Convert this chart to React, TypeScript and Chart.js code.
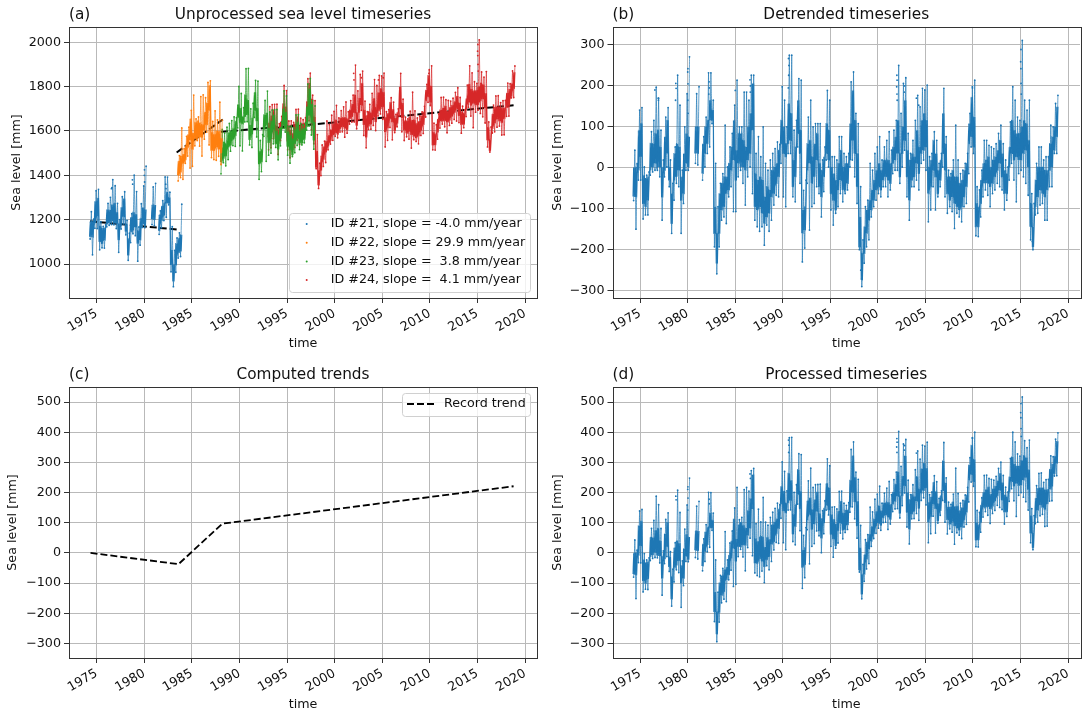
import React, { useEffect, useRef } from "react";
import { Chart, registerables } from "chart.js";
Chart.register(...registerables);

const FONT = "'DejaVu Sans'";
const xTickValues = [1975, 1980, 1985, 1990, 1995, 2000, 2005, 2010, 2015, 2020];
const aTicks = [1000, 1200, 1400, 1600, 1800, 2000];
const bTicks = [-300, -200, -100, 0, 100, 200, 300];
const cdTicks = [-300, -200, -100, 0, 100, 200, 300, 400, 500];
const legendA = ["ID #21, slope = -4.0 mm/year", "ID #22, slope = 29.9 mm/year", "ID #23, slope =  3.8 mm/year", "ID #24, slope =  4.1 mm/year"];
const colorsA = ["#1f77b4", "#ff7f0e", "#2ca02c", "#d62728"];

// rows: [time, lowest, band low, band high, highest]
const id21 = [[1974.25,1113,1123,1193,1236],[1974.5,1042,1121,1194,1202],[1974.75,1161,1186,1283,1331],[1975,1160,1217,1298,1337],[1975.25,1064,1102,1171,1191],[1975.5,1073,1093,1162,1170],[1975.75,1072,1108,1165,1177],[1976,1168,1181,1246,1274],[1976.25,1175,1187,1244,1301],[1976.5,1178,1195,1268,1381],[1976.75,1177,1185,1275,1353],[1977,1160,1184,1233,1274],[1977.25,1053,1110,1183,1200],[1977.5,1158,1174,1256,1304],[1977.75,1181,1214,1295,1326],[1978,1132,1148,1180,1197],[1978.25,1017,1041,1114,1139],[1978.5,1097,1146,1211,1227],[1978.75,1137,1153,1234,1401],[1979,1128,1168,1225,1327],[1979.25,1013,1094,1151,1167],[1979.5,1085,1109,1207,1272],[1979.75,1165,1182,1255,1352],[1980,1164,1172,1246,1441],[1980.75,1178,1202,1267,1348],[1981,1173,1201,1266,1364],[1981.5,1134,1150,1223,1240],[1981.75,1164,1197,1262,1286],[1982,1196,1220,1277,1393],[1982.25,1211,1276,1325,1392],[1982.5,1267,1275,1300,1324],[1982.75,965,998,1063,1169],[1983,898,924,997,1062],[1983.25,963,996,1093,1118],[1983.5,1027,1052,1117,1141],[1983.75,1034,1059,1132,1270]];
const id22 = [[1983.5,1375,1400,1465,1489],[1983.75,1390,1415,1488,1614],[1984,1382,1455,1496,1520],[1984.25,1454,1471,1536,1576],[1984.5,1487,1527,1584,1617],[1984.75,1433,1559,1656,1693],[1985,1441,1518,1591,1762],[1985.25,1533,1566,1639,1655],[1985.5,1557,1565,1647,1663],[1985.75,1532,1572,1637,1755],[1986,1487,1572,1629,1763],[1986.25,1563,1604,1685,1750],[1986.5,1595,1628,1726,1819],[1986.75,1537,1692,1806,1826],[1987,1480,1513,1594,1643],[1987.25,1471,1512,1585,1691],[1987.5,1468,1528,1601,1650],[1987.75,1486,1519,1600,1730],[1988,1449,1502,1567,1649]];
const id23 = [[1988,1407,1460,1525,1607],[1988.25,1457,1477,1551,1591],[1988.5,1443,1487,1544,1617],[1988.75,1471,1528,1593,1634],[1989,1509,1537,1602,1647],[1989.25,1534,1563,1612,1664],[1989.5,1531,1580,1645,1660],[1989.75,1614,1662,1719,1801],[1990,1533,1639,1704,1769],[1990.25,1510,1632,1664,1705],[1990.5,1641,1665,1763,1881],[1990.75,1642,1674,1740,1882],[1991,1537,1562,1627,1700],[1991.25,1526,1587,1660,1725],[1991.5,1661,1694,1775,1828],[1991.75,1573,1646,1703,1825],[1992,1382,1452,1509,1557],[1992.25,1417,1461,1518,1583],[1992.5,1576,1608,1673,1738],[1992.75,1463,1626,1682,1780],[1993,1491,1548,1613,1686],[1993.25,1500,1565,1646,1695],[1993.5,1542,1607,1672,1696],[1993.75,1526,1543,1600,1697],[1994,1470,1519,1584,1609],[1994.25,1533,1569,1618,1642],[1994.5,1611,1627,1700,1781],[1994.75,1595,1612,1685,1758],[1995,1491,1531,1596,1621],[1995.25,1455,1516,1581,1622],[1995.5,1485,1493,1566,1615],[1995.75,1502,1543,1608,1673],[1996,1535,1568,1641,1674],[1996.25,1516,1545,1601,1634],[1996.5,1537,1546,1611,1627],[1996.75,1547,1563,1612,1636],[1997,1604,1621,1710,1812],[1997.25,1622,1670,1792,1837],[1997.5,1582,1639,1720,1737],[1997.75,1518,1559,1640,1713]];
const id24 = [[1993,1515,1572,1637,1710],[1993.25,1524,1589,1670,1719],[1993.5,1566,1631,1696,1720],[1993.75,1550,1567,1624,1721],[1994,1494,1543,1608,1633],[1994.25,1557,1593,1642,1666],[1994.5,1635,1651,1724,1805],[1994.75,1619,1636,1709,1782],[1995,1515,1555,1620,1645],[1995.25,1479,1540,1605,1646],[1995.5,1509,1517,1590,1639],[1995.75,1526,1567,1632,1697],[1996,1559,1592,1665,1698],[1996.25,1540,1569,1625,1658],[1996.5,1561,1570,1635,1651],[1996.75,1571,1587,1636,1660],[1997,1628,1645,1734,1836],[1997.25,1646,1694,1816,1861],[1997.5,1606,1663,1744,1761],[1997.75,1542,1583,1664,1737],[1998,1430,1437,1510,1584],[1998.25,1341,1357,1422,1455],[1998.5,1399,1423,1488,1537],[1998.75,1440,1473,1530,1554],[1999,1458,1506,1555,1645],[1999.25,1515,1532,1581,1629],[1999.5,1541,1557,1606,1671],[1999.75,1558,1583,1631,1688],[2000,1576,1593,1650,1715],[2000.25,1569,1586,1634,1659],[2000.5,1595,1611,1660,1692],[2000.75,1596,1620,1661,1709],[2001,1572,1613,1662,1731],[2001.25,1590,1606,1655,1687],[2001.5,1631,1656,1696,1737],[2001.75,1640,1665,1722,1762],[2002,1641,1682,1763,1897],[2002.25,1610,1626,1683,1781],[2002.5,1651,1684,1749,1855],[2002.75,1693,1717,1815,1870],[2003,1580,1629,1694,1735],[2003.25,1524,1573,1671,1687],[2003.5,1607,1623,1688,1720],[2003.75,1608,1632,1681,1770],[2004,1625,1666,1747,1832],[2004.25,1602,1642,1707,1805],[2004.5,1668,1692,1773,1851],[2004.75,1677,1701,1791,1848],[2005,1653,1710,1775,1861],[2005.25,1528,1597,1662,1687],[2005.5,1558,1615,1680,1696],[2005.75,1616,1656,1729,1750],[2006,1560,1641,1698,1730],[2006.25,1593,1601,1658,1675],[2006.5,1619,1635,1684,1700],[2006.75,1668,1701,1799,1860],[2007,1596,1661,1726,1743],[2007.25,1557,1605,1646,1662],[2007.5,1574,1590,1647,1655],[2007.75,1563,1599,1664,1689],[2008,1523,1584,1649,1775],[2008.25,1561,1577,1650,1691],[2008.5,1553,1570,1635,1659],[2008.75,1542,1579,1644,1668],[2009,1580,1604,1669,1686],[2009.25,1589,1630,1687,1711],[2009.5,1663,1736,1785,1810],[2009.75,1729,1754,1851,1876],[2010,1715,1731,1804,1894],[2010.25,1515,1537,1594,1635],[2010.5,1514,1538,1587,1628],[2010.75,1563,1596,1653,1677],[2011,1613,1646,1695,1751],[2011.25,1631,1647,1704,1752],[2011.5,1619,1648,1713,1741],[2011.75,1592,1641,1689,1738],[2012,1625,1650,1707,1735],[2012.25,1635,1667,1716,1748],[2012.5,1652,1684,1733,1774],[2012.75,1645,1702,1758,1795],[2013,1638,1670,1727,1751],[2013.25,1590,1630,1687,1712],[2013.5,1615,1631,1680,1696],[2013.75,1665,1697,1746,1807],[2014,1707,1731,1812,1894],[2014.25,1667,1716,1789,1862],[2014.5,1615,1725,1782,1822],[2014.75,1685,1718,1783,1815],[2015,1694,1719,1800,2011],[2015.25,1679,1736,1817,1866],[2015.5,1664,1745,1810,1843],[2015.75,1636,1705,1770,1868],[2016,1528,1560,1617,1641],[2016.25,1505,1512,1561,1618],[2016.5,1591,1611,1676,1717],[2016.75,1596,1636,1709,1758],[2017,1617,1654,1710,1759],[2017.25,1622,1646,1711,1728],[2017.5,1582,1639,1704,1737],[2017.75,1583,1657,1705,1738],[2018,1666,1706,1771,1816],[2018.25,1667,1715,1789,1813],[2018.5,1749,1757,1814,1871],[2018.75,1751,1792,1865,1893]];
const spikes21 = [[1980.02,1425],[1980,1400],[1980.03,1370],[1978.75,1380],[1978.78,1360],[1976.55,1340],[1976.6,1345],[1982.25,1360],[1982.28,1340]];
const spikes24 = [[2015.05,1990],[2015.02,1960],[2015.04,1940],[2015.06,1900],[2015.08,1870],[2002,1860],[2002.03,1830],[2002.8,1840],[2004.6,1830],[2005.1,1840],[2009.9,1860]];

const trend21 = [[1974.3, 1193], [1983.6, 1155]];
const trend22 = [[1983.4, 1503], [1988.25, 1652]];
const trend23 = [[1988.05, 1596], [1997.7, 1632]];
const trend24 = [[1993, 1610], [2018.8, 1716]];
const trendRecord = [[1974.35, 0], [1983.6, -37], [1988.2, 97], [2018.8, 221]];

const detrended = [[1974.25,-80,-70,0,43],[1974.5,-150,-71,2,10],[1974.75,-30,-5,92,141],[1975,-30,27,108,147],[1975.25,-125,-87,-18,2],[1975.5,-115,-95,-26,-18],[1975.75,-115,-79,-22,-10],[1976,-18,-5,60,88],[1976.25,-10,2,59,116],[1976.5,-6,11,84,197],[1976.75,-6,2,92,170],[1977,-22,2,51,92],[1977.25,-128,-71,2,19],[1977.5,-22,-6,76,124],[1977.75,2,35,116,147],[1978,-46,-30,2,19],[1978.25,-160,-136,-63,-38],[1978.5,-79,-30,35,51],[1978.75,-38,-22,59,226],[1979,-46,-6,51,153],[1979.25,-160,-79,-22,-6],[1979.5,-87,-63,35,100],[1979.75,-6,11,84,181],[1980,-6,2,76,271],[1980.75,11,35,100,181],[1981,7,35,100,198],[1981.5,-30,-14,59,76],[1981.75,2,35,100,124],[1982,35,59,116,232],[1982.25,51,116,165,232],[1982.5,108,116,141,165],[1982.75,-193,-160,-95,11],[1983,-259,-233,-160,-95],[1983.25,-193,-160,-63,-38],[1983.5,-128,-103,-38,-14],[1983.75,-120,-95,-22,104],[1984,-136,-63,-22,2],[1984.25,-71,-54,11,51],[1984.5,-46,-6,51,84],[1984.75,-107,19,116,153],[1985,-107,-30,43,214],[1985.25,-22,11,84,100],[1985.5,-6,2,84,100],[1985.75,-38,2,67,185],[1986,-91,-6,51,185],[1986.25,-22,19,100,165],[1986.5,2,35,133,226],[1986.75,-63,92,206,226],[1987,-128,-95,-14,35],[1987.25,-144,-103,-30,76],[1987.5,-155,-95,-22,27],[1987.75,-144,-111,-30,100],[1988,-189,-136,-71,11],[1988.25,-140,-120,-46,-6],[1988.5,-155,-111,-54,19],[1988.75,-128,-71,-6,35],[1989,-91,-63,2,47],[1989.25,-67,-38,11,63],[1989.5,-71,-22,43,57],[1989.75,11,59,116,198],[1990,-71,35,100,165],[1990.25,-95,27,59,100],[1990.5,35,59,157,275],[1990.75,35,67,133,275],[1991,-71,-46,19,92],[1991.25,-83,-22,51,116],[1991.5,51,84,165,218],[1991.75,-38,35,92,214],[1992,-230,-160,-103,-55],[1992.25,-196,-152,-95,-30],[1992.5,-38,-6,59,124],[1992.75,-152,11,67,165],[1993,-95,-38,27,100],[1993.25,-87,-22,59,108],[1993.5,-46,19,84,108],[1993.75,-63,-46,11,108],[1994,-120,-71,-6,19],[1994.25,-58,-22,27,51],[1994.5,19,35,108,189],[1994.75,2,19,92,165],[1995,-103,-63,2,27],[1995.25,-140,-79,-14,27],[1995.5,-111,-103,-30,19],[1995.75,-95,-54,11,76],[1996,-63,-30,43,76],[1996.25,-83,-54,2,35],[1996.5,-63,-54,11,27],[1996.75,-54,-38,11,35],[1997,2,19,108,210],[1997.25,19,67,189,234],[1997.5,-22,35,116,133],[1997.75,-87,-46,35,108],[1998,-200,-193,-120,-46],[1998.25,-290,-274,-209,-176],[1998.5,-233,-209,-144,-95],[1998.75,-193,-160,-103,-79],[1999,-176,-128,-79,11],[1999.25,-120,-103,-54,-6],[1999.5,-95,-79,-30,35],[1999.75,-79,-54,-6,51],[2000,-63,-46,11,76],[2000.25,-71,-54,-6,19],[2000.5,-46,-30,19,51],[2000.75,-46,-22,19,67],[2001,-71,-30,19,88],[2001.25,-54,-38,11,43],[2001.5,-14,11,51,92],[2001.75,-6,19,76,116],[2002,-6,35,116,250],[2002.25,-38,-22,35,133],[2002.5,2,35,100,206],[2002.75,43,67,165,220],[2003,-71,-22,43,84],[2003.25,-128,-79,19,35],[2003.5,-46,-30,35,67],[2003.75,-46,-22,27,116],[2004,-30,11,92,177],[2004.25,-54,-14,51,149],[2004.5,11,35,116,194],[2004.75,19,43,133,190],[2005,-6,51,116,202],[2005.25,-132,-63,2,27],[2005.5,-103,-46,19,35],[2005.75,-46,-6,67,88],[2006,-103,-22,35,67],[2006.25,-71,-63,-6,11],[2006.5,-46,-30,19,35],[2006.75,2,35,133,194],[2007,-71,-6,59,76],[2007.25,-111,-63,-22,-6],[2007.5,-95,-79,-22,-14],[2007.75,-107,-71,-6,19],[2008,-148,-87,-22,104],[2008.25,-111,-95,-22,19],[2008.5,-120,-103,-38,-14],[2008.75,-132,-95,-30,-6],[2009,-95,-71,-6,11],[2009.25,-87,-46,11,35],[2009.5,-14,59,108,133],[2009.75,51,76,173,198],[2010,35,51,124,214],[2010.25,-166,-144,-87,-46],[2010.5,-168,-144,-95,-54],[2010.75,-120,-87,-30,-6],[2011,-71,-38,11,67],[2011.25,-54,-38,19,67],[2011.5,-67,-38,27,55],[2011.75,-95,-46,2,51],[2012,-63,-38,19,47],[2012.25,-54,-22,27,59],[2012.5,-38,-6,43,84],[2012.75,-46,11,67,104],[2013,-54,-22,35,59],[2013.25,-103,-63,-6,19],[2013.5,-79,-63,-14,2],[2013.75,-30,2,51,112],[2014,11,35,116,198],[2014.25,-30,19,92,165],[2014.5,-83,27,84,124],[2014.75,-14,19,84,116],[2015,-6,19,100,311],[2015.25,-22,35,116,165],[2015.5,-38,43,108,141],[2015.75,-67,2,67,165],[2016,-176,-144,-87,-63],[2016.25,-200,-193,-144,-87],[2016.5,-115,-95,-30,11],[2016.75,-111,-71,2,51],[2017,-91,-54,2,51],[2017.25,-87,-63,2,19],[2017.5,-128,-71,-6,27],[2017.75,-128,-54,-6,27],[2018,-46,-6,59,104],[2018.25,-46,2,76,100],[2018.5,35,43,100,157],[2018.75,35,76,149,177]];
const detrendedSpikes = [[1980.02,242],[1980,234],[1980.03,205],[1980.01,165],[1980.04,133],[2015.05,289],[2015.02,259],[2015.04,242],[2015.06,206],[2015.08,180],[1990.6,267],[1990.65,250],[1990.62,226],[1990.58,195],[1978.75,206],[1978.78,194],[1978.72,165],[1976.55,190],[1976.9,170],[1976.92,165],[1982.25,210],[1982.27,195],[1982.22,180],[1985,189],[1986.55,215],[1986.6,200],[1986.58,185],[2002,226],[2002.02,214],[2001.98,198],[2002.01,180],[2002.03,165],[2002.8,200],[2002.78,185],[2004.05,170],[2004.3,153],[2009.95,195],[2016.25,-180],[1998.3,-270],[1998.2,-250]];

const processed = [[1974.25,-80,-70,0,43],[1974.5,-151,-72,1,9],[1974.75,-32,-7,90,139],[1975,-33,24,105,144],[1975.25,-129,-91,-22,-2],[1975.5,-120,-100,-31,-23],[1975.75,-121,-85,-28,-16],[1976,-25,-12,53,81],[1976.25,-18,-6,51,108],[1976.5,-15,2,75,188],[1976.75,-16,-8,82,160],[1977,-33,-9,40,81],[1977.25,-140,-83,-10,7],[1977.5,-35,-19,63,111],[1977.75,-12,21,102,133],[1978,-61,-45,-13,4],[1978.25,-176,-152,-79,-54],[1978.5,-96,-47,18,34],[1978.75,-56,-40,41,208],[1979,-65,-25,32,134],[1979.25,-180,-99,-42,-26],[1979.5,-108,-84,14,79],[1979.75,-28,-11,62,159],[1980,-29,-21,53,248],[1980.75,-15,9,74,155],[1981,-20,8,73,171],[1981.5,-59,-43,30,47],[1981.75,-28,5,70,94],[1982,4,28,85,201],[1982.25,19,84,133,200],[1982.5,75,83,108,132],[1982.75,-227,-194,-129,-23],[1983,-294,-268,-195,-130],[1983.25,-229,-196,-99,-74],[1983.5,-165,-140,-75,-51],[1983.75,-153,-128,-55,71],[1984,-161,-88,-47,-23],[1984.25,-89,-72,-7,33],[1984.5,-57,-17,40,73],[1984.75,-111,15,112,149],[1985,-104,-27,46,217],[1985.25,-12,21,94,110],[1985.5,12,20,102,118],[1985.75,-13,27,92,210],[1986,-59,26,83,217],[1986.25,18,59,140,205],[1986.5,49,82,180,273],[1986.75,-9,146,260,280],[1987,-66,-33,48,97],[1987.25,-75,-34,39,145],[1987.5,-79,-19,54,103],[1987.75,-60,-27,54,184],[1988,-98,-45,20,102],[1988.25,-42,-22,52,92],[1988.5,-56,-12,45,118],[1988.75,-28,29,94,135],[1989,10,38,103,148],[1989.25,35,64,113,165],[1989.5,32,81,146,160],[1989.75,115,163,220,302],[1990,34,140,205,270],[1990.25,11,133,165,206],[1990.5,142,166,264,382],[1990.75,143,175,241,383],[1991,38,63,128,201],[1991.25,27,88,161,226],[1991.5,162,195,276,329],[1991.75,74,147,204,326],[1992,-117,-47,10,58],[1992.25,-82,-38,19,84],[1992.5,77,109,174,239],[1992.75,-36,127,183,281],[1993,22,79,144,217],[1993.25,31,96,177,226],[1993.5,73,138,203,227],[1993.75,57,74,131,228],[1994,1,50,115,140],[1994.25,64,100,149,173],[1994.5,142,158,231,312],[1994.75,126,143,216,289],[1995,22,62,127,152],[1995.25,-14,47,112,153],[1995.5,16,24,97,146],[1995.75,33,74,139,204],[1996,66,99,172,205],[1996.25,47,76,132,165],[1996.5,68,77,142,158],[1996.75,78,94,143,167],[1997,135,152,241,343],[1997.25,153,201,323,368],[1997.5,113,170,251,268],[1997.75,49,90,171,244],[1998,-63,-56,17,91],[1998.25,-152,-136,-71,-38],[1998.5,-94,-70,-5,44],[1998.75,-53,-20,37,61],[1999,-35,13,62,152],[1999.25,22,39,88,136],[1999.5,48,64,113,178],[1999.75,65,90,138,195],[2000,82,99,156,221],[2000.25,75,92,140,165],[2000.5,101,117,166,198],[2000.75,102,126,167,215],[2001,78,119,168,237],[2001.25,96,112,161,193],[2001.5,137,162,202,243],[2001.75,146,171,228,268],[2002,147,188,269,403],[2002.25,116,132,189,287],[2002.5,157,190,255,361],[2002.75,199,223,321,376],[2003,86,135,200,241],[2003.25,30,79,177,193],[2003.5,113,129,194,226],[2003.75,114,138,187,276],[2004,131,172,253,338],[2004.25,108,148,213,311],[2004.5,174,198,279,357],[2004.75,183,207,297,354],[2005,159,216,281,367],[2005.25,34,103,168,193],[2005.5,64,121,186,202],[2005.75,122,162,235,256],[2006,66,147,204,236],[2006.25,99,107,164,181],[2006.5,125,141,190,206],[2006.75,174,207,305,366],[2007,102,167,232,249],[2007.25,63,111,152,168],[2007.5,80,96,153,161],[2007.75,69,105,170,195],[2008,29,90,155,281],[2008.25,67,83,156,197],[2008.5,59,76,141,165],[2008.75,48,85,150,174],[2009,86,110,175,192],[2009.25,95,136,193,217],[2009.5,169,242,291,316],[2009.75,235,260,357,382],[2010,221,237,310,400],[2010.25,21,43,100,141],[2010.5,20,44,93,134],[2010.75,69,102,159,183],[2011,119,152,201,257],[2011.25,137,153,210,258],[2011.5,125,154,219,247],[2011.75,98,147,195,244],[2012,131,156,213,241],[2012.25,141,173,222,254],[2012.5,158,190,239,280],[2012.75,151,208,264,301],[2013,144,176,233,257],[2013.25,96,136,193,218],[2013.5,121,137,186,202],[2013.75,171,203,252,313],[2014,213,237,318,400],[2014.25,173,222,295,368],[2014.5,121,231,288,328],[2014.75,191,224,289,321],[2015,200,225,306,517],[2015.25,185,242,323,372],[2015.5,170,251,316,349],[2015.75,142,211,276,374],[2016,34,66,123,147],[2016.25,11,18,67,124],[2016.5,97,117,182,223],[2016.75,102,142,215,264],[2017,123,160,216,265],[2017.25,128,152,217,234],[2017.5,88,145,210,243],[2017.75,89,163,211,244],[2018,172,212,277,322],[2018.25,173,221,295,319],[2018.5,255,263,320,377],[2018.75,256,297,370,398]];
const processedSpikes = [[1980.02,219],[1980,211],[1980.03,182],[1980.01,142],[2015.05,495],[2015.02,465],[2015.04,448],[2015.06,412],[2015.08,386],[1990.6,374],[1990.65,357],[1990.62,333],[1978.75,188],[1978.78,176],[1982.25,178],[1982.27,163],[1986.55,262],[1986.6,247],[2002,379],[2002.02,367],[2001.98,351],[2002.01,333],[2002.8,356],[2002.78,341],[2004.05,331],[2009.95,380]];

const gapBreak = (rows: number[][], i: number, r: number[]) => (i > 0 && r[0] - rows[i - 1][0] > 0.3 ? [{ x: r[0], y: null }] : []);
// the thick middle of the band: a dense zigzag between band low and band high
const band = (rows: number[][]) =>
  rows.flatMap((r, i) => [
    ...gapBreak(rows, i, r),
    { x: r[0], y: r[2] }, { x: r[0] + 0.06, y: r[3] }, { x: r[0] + 0.125, y: r[2] }, { x: r[0] + 0.19, y: r[3] },
  ]);
// the thin outer part of the band: lowest to highest of each row
const outer = (rows: number[][]) =>
  rows.flatMap((r, i) => [...gapBreak(rows, i, r), { x: r[0] + 0.06, y: r[1] }, { x: r[0] + 0.19, y: r[4] }]);
const tips = (rows: number[][], extra: number[][]) => [
  ...rows.flatMap((r) => [{ x: r[0] + 0.06, y: r[1] }, { x: r[0] + 0.19, y: r[4] }]),
  ...extra.map((p) => ({ x: p[0], y: p[1] })),
];
const series = (label: string, color: string, rows: number[][], extra: number[][]) => [
  { label: label + " outer", data: outer(rows), showLine: true, tension: 0.0001, borderColor: color + "b0", borderWidth: 1, pointRadius: 0, spanGaps: false },
  { label, data: band(rows), showLine: true, tension: 0.0001, borderColor: color, borderWidth: 1.1, pointRadius: 0, spanGaps: false },
  { label: label + " tips", data: tips(rows, extra), showLine: false, backgroundColor: color, pointRadius: 0.9, pointBorderWidth: 0 },
];
const trend = (label: string, pts: number[][], w = 2) => ({
  label, data: pts.map((p) => ({ x: p[0], y: p[1] })), showLine: true, borderColor: "#000", borderWidth: w, borderDash: [7, 3], pointRadius: 0,
});

const frame = (tag: string) => ({
  id: "frame" + tag,
  afterDatasetsDraw(c: any) {
    const { left, top, right, bottom } = c.chartArea;
    const g = c.ctx;
    g.save();
    g.strokeStyle = "#333";
    g.lineWidth = 1;
    g.strokeRect(Math.round(left) + 0.5, Math.round(top) + 0.5, Math.round(right - left), Math.round(bottom - top));
    g.fillStyle = "#111";
    g.font = `15.3px ${FONT}`;
    g.textBaseline = "middle";
    g.textAlign = "left";
    g.fillText(tag, left, 15);
    g.restore();
  },
});

const legendBox = (g: any, x: number, y: number, w: number, h: number) => {
  g.beginPath();
  g.roundRect(x + 0.5, y + 0.5, w, h, 3);
  g.fillStyle = "rgba(255,255,255,0.8)";
  g.fill();
  g.strokeStyle = "#d0d0d0";
  g.lineWidth = 1;
  g.stroke();
};
const legendAPlugin = {
  id: "legendA",
  afterDatasetsDraw(c: any) {
    const g = c.ctx;
    g.save();
    legendBox(g, 289, 213, 241, 79);
    g.font = `12.7px ${FONT}`;
    g.textBaseline = "middle";
    g.textAlign = "left";
    legendA.forEach((t, i) => {
      const y = 224 + i * 18.7;
      g.fillStyle = colorsA[i];
      g.beginPath();
      g.arc(306.7, y, 1, 0, Math.PI * 2);
      g.fill();
      g.fillStyle = "#111";
      g.fillText(t, 330.7, y);
    });
    g.restore();
  },
};
const legendCPlugin = {
  id: "legendC",
  afterDatasetsDraw(c: any) {
    const g = c.ctx;
    g.save();
    legendBox(g, 402, 33, 128, 23);
    g.strokeStyle = "#000";
    g.lineWidth = 2;
    g.setLineDash([7, 3]);
    g.beginPath();
    g.moveTo(407, 44);
    g.lineTo(434, 44);
    g.stroke();
    g.setLineDash([]);
    g.fillStyle = "#111";
    g.font = `12.7px ${FONT}`;
    g.textBaseline = "middle";
    g.textAlign = "left";
    g.fillText("Record trend", 444, 43.5);
    g.restore();
  },
};

const makeConfig = (p: any) => ({
  type: "scatter",
  data: { datasets: p.datasets },
  plugins: [frame(p.tag), ...(p.plugins || [])],
  options: {
    responsive: false,
    animation: false,
    events: [],
    layout: { padding: { left: 0, right: p.right, top: 0, bottom: 0 } },
    plugins: {
      legend: { display: false },
      tooltip: { enabled: false },
      title: {
        display: true, text: p.title, fullSize: false, align: "center", color: "#111",
        font: { family: FONT, size: 15.3, weight: "normal", lineHeight: 1.2 },
        padding: { top: 5.5, bottom: 3.1 },
      },
    },
    scales: {
      x: {
        type: "linear", min: 1972.09, max: 2021.26,
        afterBuildTicks: (s: any) => { s.ticks = xTickValues.map((value) => ({ value })); },
        afterFit: (s: any) => { s.height = p.h - p.plotBottom; },
        grid: { color: "#b9b9b9", lineWidth: 1, tickColor: "#333", tickLength: 5 },
        border: { display: false },
        ticks: { autoSkip: false, minRotation: 30, maxRotation: 30, padding: 3, color: "#111", font: { family: FONT, size: 12.7 }, callback: (v: number) => String(v) },
        title: { display: true, text: "time", color: "#111", font: { family: FONT, size: 12.7, lineHeight: 1.2 }, padding: 0 },
      },
      y: {
        type: "linear", min: p.yMin, max: p.yMax,
        afterBuildTicks: (s: any) => { s.ticks = p.yTicks.map((value: number) => ({ value })); },
        afterFit: (s: any) => { s.width = p.plotLeft; },
        grid: { color: "#b9b9b9", lineWidth: 1, tickColor: "#333", tickLength: 5 },
        border: { display: false },
        ticks: { padding: 3, color: "#111", font: { family: FONT, size: 12.7 }, callback: (v: number) => String(v).replace("-", "\u2212") },
        title: { display: true, text: "Sea level [mm]", color: "#111", font: { family: FONT, size: 12.7, lineHeight: 1.2 }, padding: { top: p.yTitlePad, bottom: 0 } },
      },
    },
  },
});

const panels = [
  {
    tag: "(a)", title: "Unprocessed sea level timeseries", ox: 0, oy: 0, w: 542, h: 351, right: 5, plotLeft: 69, plotBottom: 298, yMin: 847, yMax: 2069, yTicks: aTicks, yTitlePad: 8.9,
    datasets: [
      ...series("ID #21", colorsA[0], id21, spikes21), ...series("ID #22", colorsA[1], id22, []),
      ...series("ID #23", colorsA[2], id23, []), ...series("ID #24", colorsA[3], id24, spikes24),
      trend("trend 21", trend21), trend("trend 22", trend22), trend("trend 23", trend23), trend("trend 24", trend24),
    ],
    plugins: [legendAPlugin],
  },
  {
    tag: "(b)", title: "Detrended timeseries", ox: 544, oy: 0, w: 540, h: 351, right: 3.5, plotLeft: 68.5, plotBottom: 298, yMin: -318, yMax: 344, yTicks: bTicks, yTitlePad: 6.4,
    datasets: series("Detrended", colorsA[0], detrended, detrendedSpikes),
  },
  {
    tag: "(c)", title: "Computed trends", ox: 0, oy: 360, w: 542, h: 352, right: 5, plotLeft: 69, plotBottom: 298, yMin: -348, yMax: 550, yTicks: cdTicks, yTitlePad: 5.4,
    datasets: [trend("Record trend", trendRecord, 1.8)],
    plugins: [legendCPlugin],
  },
  {
    tag: "(d)", title: "Processed timeseries", ox: 544, oy: 360, w: 540, h: 352, right: 3.5, plotLeft: 68.5, plotBottom: 298, yMin: -348, yMax: 550, yTicks: cdTicks, yTitlePad: 5.9,
    datasets: series("Processed", colorsA[0], processed, processedSpikes),
  },
];

export default function App() {
  const refs = useRef<(HTMLCanvasElement | null)[]>([]);
  useEffect(() => {
    const charts = panels.map((p, i) => new Chart(refs.current[i] as any, makeConfig(p) as any));
    return () => charts.forEach((c) => c.destroy());
  }, []);
  return (
    <div>
      {panels.map((p, i) => (
        <canvas
          key={p.tag}
          ref={(el) => { refs.current[i] = el; }}
          width={p.w}
          height={p.h}
          style={{ position: "absolute", left: p.ox, top: p.oy, width: p.w, height: p.h }}
        />
      ))}
    </div>
  );
}
